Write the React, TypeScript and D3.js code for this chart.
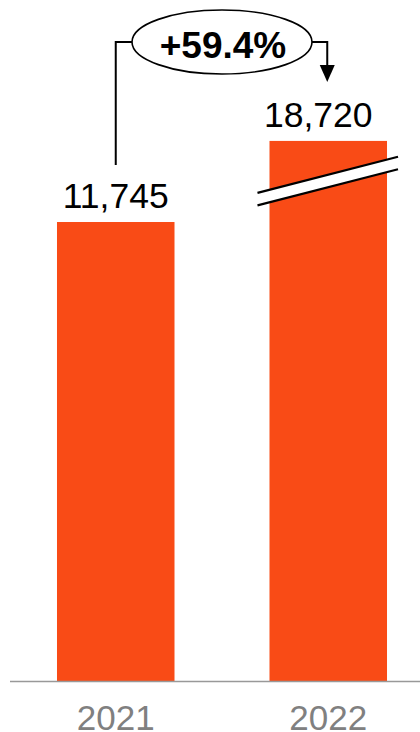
import React from "react";
import * as d3 from "d3";

const categories = ["2021", "2022"];
const values = [11745, 18720];
const valueLabels = ["11,745", "18,720"];
const changeLabel = "+59.4%";
// value at which the broken bar is drawn (axis break)
const breakDisplayValue = 13820;

const W = 420;
const H = 732;
const BAR = "#F94B16";
const FONT = "'Liberation Sans', Arial, Helvetica, sans-serif";

export default function App() {
  const x = d3
    .scaleBand<string>()
    .domain(categories)
    .range([-38, 482])
    .padding(0.447);
  const y = d3.scaleLinear().domain([0, 17426]).range([681, 0]);

  const shown = values.map((v) => Math.min(v, breakDisplayValue));
  const bw = x.bandwidth();
  const cx = (c: string) => (x(c) as number) + bw / 2;

  const c1 = cx(categories[0]);
  const c2 = cx(categories[1]);
  const ellCx = (c1 + c2) / 2;
  const ellCy = 42;
  const rx = 90;
  const ry = 32;

  // break geometry on the second bar
  const bx0 = (x(categories[1]) as number) - 12;
  const bx1 = (x(categories[1]) as number) + bw + 11;
  const slope = -0.257;
  const bY = y(shown[1]) + 52; // upper line y at bx0
  const gap = 12.5;
  const upper = [bx0, bY, bx1, bY + slope * (bx1 - bx0)];
  const lower = [bx0, bY + gap, bx1, bY + gap + slope * (bx1 - bx0)];

  return (
    <div style={{ position: "fixed", left: 0, top: 0, width: W, height: H, background: "#fff" }}>
      <svg width={W} height={H} style={{ display: "block" }} fontFamily={FONT}>
        {categories.map((c, i) => (
          <rect
            key={c}
            x={x(c)}
            y={y(shown[i])}
            width={bw}
            height={y(0) - y(shown[i])}
            fill={BAR}
          />
        ))}
        {/* axis break */}
        <polygon
          points={`${upper[0]},${upper[1]} ${upper[2]},${upper[3]} ${lower[2]},${lower[3]} ${lower[0]},${lower[1]}`}
          fill="#fff"
        />
        <line x1={upper[0]} y1={upper[1]} x2={upper[2]} y2={upper[3]} stroke="#000" strokeWidth={2.2} />
        <line x1={lower[0]} y1={lower[1]} x2={lower[2]} y2={lower[3]} stroke="#000" strokeWidth={2.2} />

        {/* baseline axis */}
        <line x1={10} x2={W} y1={y(0) + 0.5} y2={y(0) + 0.5} stroke="#999" strokeWidth={1.5} />

        {categories.map((c, i) => (
          <text
            key={"v" + c}
            x={cx(c) - (values[i] > breakDisplayValue ? 10 : 0)}
            y={y(shown[i]) - 14}
            textAnchor="middle"
            fontSize={35.5}
            fill="#000"
          >
            {valueLabels[i]}
          </text>
        ))}
        {categories.map((c) => (
          <text
            key={"t" + c}
            x={cx(c)}
            y={730}
            textAnchor="middle"
            fontSize={35}
            fill="#808080"
          >
            {c}
          </text>
        ))}

        {/* change annotation */}
        <path
          d={`M${c1},${y(shown[0]) - 57} V${ellCy} H${ellCx - rx}`}
          fill="none"
          stroke="#000"
          strokeWidth={2}
        />
        <path
          d={`M${ellCx + rx},${ellCy} H${c2 - 1} V${66}`}
          fill="none"
          stroke="#000"
          strokeWidth={2}
        />
        <polygon points={`${c2 - 8.5},${65} ${c2 + 6.5},${65} ${c2 - 1},${82}`} fill="#000" />
        <ellipse cx={ellCx} cy={ellCy} rx={rx} ry={ry} fill="#fff" stroke="#000" strokeWidth={1.6} />
        <text
          x={ellCx + 1}
          y={ellCy + 16}
          textAnchor="middle"
          fontSize={37}
          fontWeight="bold"
          fill="#000"
        >
          {changeLabel}
        </text>
      </svg>
    </div>
  );
}
